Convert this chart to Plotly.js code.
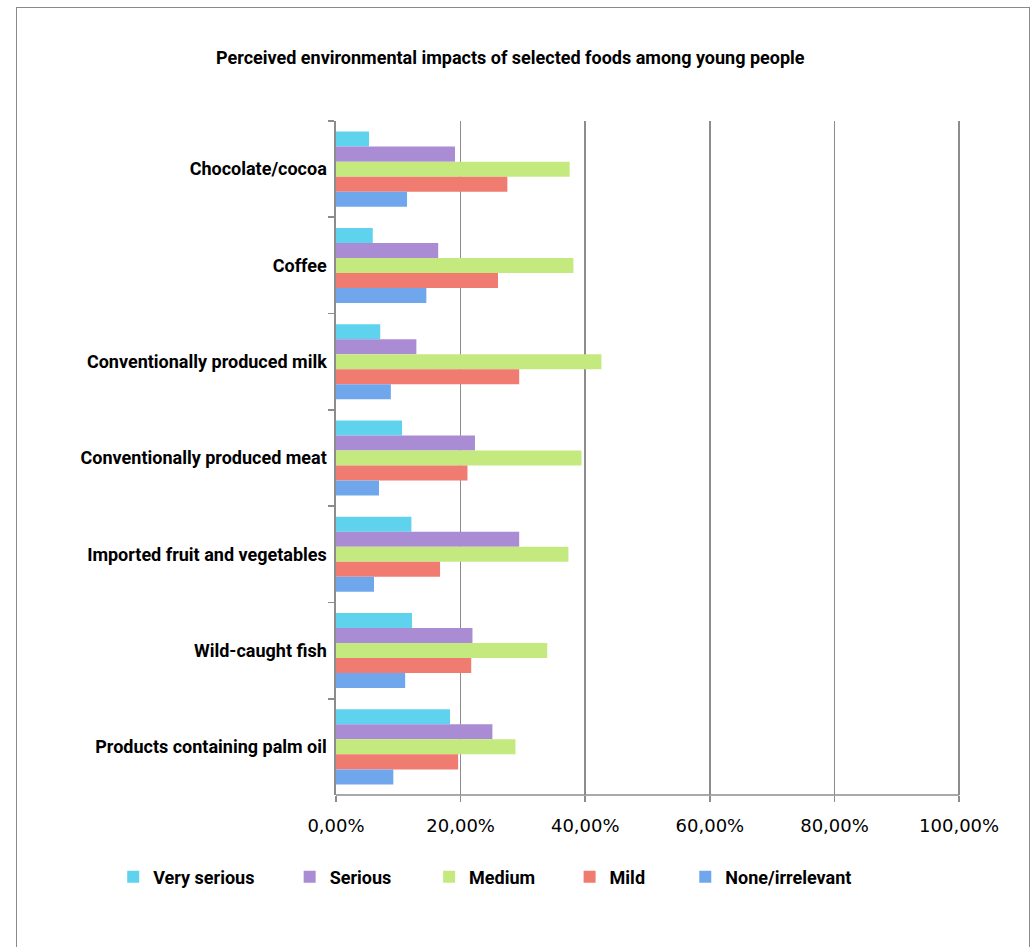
<!DOCTYPE html>
<html>
<head>
<meta charset="utf-8">
<script src="https://cdn.plot.ly/plotly-3.0.1.min.js"></script>
<style>
  html, body { margin: 0; padding: 0; background: #ffffff; }
  #chart { position: absolute; left: 0; top: 0; width: 1033px; height: 947px; }
  #frame { position: absolute; left: 16px; top: 7px; width: 1012px; height: 945px;
           border: 1.5px solid #8a8a8a; pointer-events: none; }
</style>
</head>
<body>
<div id="chart"></div>
<div id="frame"></div>
<script>
// Foods surveyed (top to bottom)
const foods = [
  "Chocolate/cocoa",
  "Coffee",
  "Conventionally produced milk",
  "Conventionally produced meat",
  "Imported fruit and vegetables",
  "Wild-caught fish",
  "Products containing palm oil"
];

// Share of respondents per perceived impact level (fractions)
const verySerious = [0.053, 0.059, 0.071, 0.106, 0.121, 0.122, 0.183];
const serious     = [0.191, 0.164, 0.129, 0.223, 0.294, 0.219, 0.251];
const medium      = [0.375, 0.381, 0.426, 0.394, 0.373, 0.339, 0.288];
const mild        = [0.275, 0.260, 0.294, 0.211, 0.167, 0.217, 0.196];
const noneIrr     = [0.114, 0.145, 0.088, 0.069, 0.061, 0.111, 0.092];

const seriesNames  = ["Very serious", "Serious", "Medium", "Mild", "None/irrelevant"];
const seriesValues = [verySerious, serious, medium, mild, noneIrr];
const seriesColors = ["#5fd3ee", "#a98cd4", "#c4ea7f", "#f07b71", "#70a7ec"];

const xTicks = [0, 0.2, 0.4, 0.6, 0.8, 1.0];

const labelFont = { family: "Liberation Sans Narrow, Roboto, sans-serif", size: 18, color: "#000000", weight: "bold" };

// one legend per series so each entry sits at its own spot
const legendX = [0.1096, 0.2804, 0.4154, 0.5514, 0.6634];

const traces = seriesNames.map((name, i) => ({
  type: "bar",
  orientation: "h",
  name: name,
  y: foods,
  x: seriesValues[i],
  marker: { color: seriesColors[i], line: { width: 0 } },
  legend: i === 0 ? "legend" : "legend" + (i + 1),
  hoverinfo: "x+y+name"
}));

const layout = {
  width: 1033,
  height: 947,
  paper_bgcolor: "rgba(0,0,0,0)",
  plot_bgcolor: "#ffffff",
  margin: { l: 336, r: 72, t: 121, b: 152 },
  barmode: "group",
  bargap: 0.22,
  bargroupgap: 0,
  separators: ",.",
  title: {
    text: "<b>Perceived environmental impacts of selected foods among young people</b>",
    font: { family: "Liberation Sans Narrow, Roboto, sans-serif", size: 18, color: "#000000" },
    xref: "container", x: 0.494, xanchor: "center",
    yref: "container", y: 1 - 58 / 947, yanchor: "middle"
  },
  xaxis: {
    range: [0, 1.003],
    tickvals: xTicks,
    tickformat: ".2%",
    showgrid: true,
    gridcolor: "#8c8c8c",
    gridwidth: 1.6,
    zeroline: false,
    showline: false,
    ticks: "outside",
    ticklen: 6,
    tickcolor: "#8c8c8c",
    tickwidth: 1.6,
    ticklabelstandoff: 8,
    tickfont: { family: "DejaVu Sans, Verdana, sans-serif", size: 18, color: "#000000" },
    fixedrange: true
  },
  yaxis: {
    type: "category",
    autorange: "reversed",
    showgrid: false,
    zeroline: false,
    showline: true,
    linecolor: "#8c8c8c",
    linewidth: 1.6,
    ticks: "outside",
    tickson: "boundaries",
    ticklen: 6,
    tickcolor: "#8c8c8c",
    tickwidth: 1.6,
    ticklabelstandoff: 4,
    tickfont: labelFont,
    fixedrange: true
  },
  // baseline of the value axis, running from 0 % to 100 %
  shapes: [{
    type: "line", xref: "x", yref: "paper",
    x0: 0, x1: 1, y0: 0, y1: 0,
    line: { color: "#8c8c8c", width: 1.6 }
  }],
  showlegend: true,
  hovermode: "closest"
};

seriesNames.forEach((n, i) => {
  const key = i === 0 ? "legend" : "legend" + (i + 1);
  layout[key] = {
    x: legendX[i], xref: "container", xanchor: "left",
    y: 1 - 877 / 947, yref: "container", yanchor: "middle",
    orientation: "h",
    bgcolor: "rgba(0,0,0,0)",
    itemwidth: 30,
    font: labelFont
  };
});

Plotly.newPlot("chart", traces, layout, { displayModeBar: false, staticPlot: true });
</script>
</body>
</html>
